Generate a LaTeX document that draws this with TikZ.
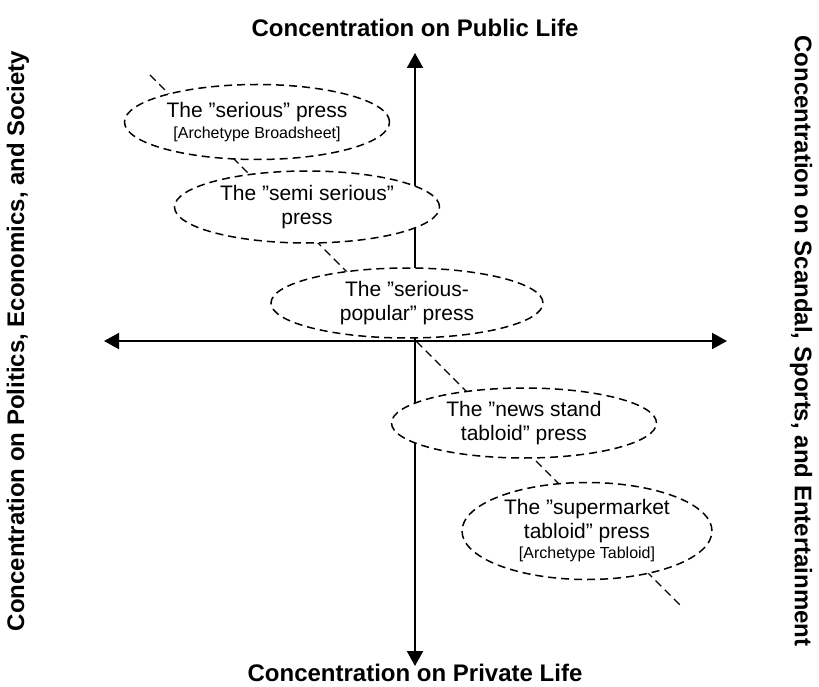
\documentclass[tikz,border=0pt]{standalone}
\usepackage{fontspec}
\setmainfont{Liberation Sans}
\usetikzlibrary{arrows.meta,shapes.geometric}
\begin{document}
\begin{tikzpicture}[x=1pt,y=-1pt,
  axis/.style={line width=2pt,{Triangle[length=15pt,width=16pt]}-{Triangle[length=15pt,width=16pt]}},
  bubble/.style={ellipse,draw,dashed,dash pattern=on 8pt off 5pt,line width=1.5pt,fill=white,inner sep=0pt,align=center,font=\fontsize{21}{23.5}\selectfont},
  title/.style={font=\bfseries\fontsize{24}{28}\selectfont,inner sep=0pt},
  diag/.style={dashed,dash pattern=on 8pt off 5pt,line width=1.3pt}]
\useasboundingbox (0,0) rectangle (819,687);
\coordinate (d1) at (150,75);
\coordinate (d2) at (680,605);
\draw[diag] (d1) -- (d2);
\coordinate (top) at (415,53);
\coordinate (bot) at (415,666);
\coordinate (lft) at (104,341);
\coordinate (rgt) at (727,341);
\draw[axis] (top) -- (bot);
\draw[axis] (lft) -- (rgt);
\node[bubble,minimum width=265pt,minimum height=75pt] (e1) at (257,122) {The ”serious” press\\[-3pt]{\fontsize{16}{18}\selectfont [Archetype Broadsheet]}};
\node[bubble,minimum width=265pt,minimum height=72pt] (e2) at (307,207) {The ”semi serious”\\press};
\node[bubble,minimum width=272pt,minimum height=70pt] (e3) at (407,303) {The ”serious-\\popular” press};
\node[bubble,minimum width=265pt,minimum height=70pt] (e4) at (524,423) {The ”news stand\\tabloid” press};
\node[bubble,minimum width=250pt,minimum height=97pt] (e5) at (587,531) {The ”supermarket\\tabloid” press\\[-3pt]{\fontsize{16}{18}\selectfont [Archetype Tabloid]}};
\node[title] (t1) at (415,28) {Concentration on Public Life};
\node[title,anchor=base] (t2) at (415,681) {Concentration on Private Life};
\node[title,rotate=90] (t3) at (18,341) {Concentration on Politics, Economics, and Society};
\node[title,rotate=-90] (t4) at (801,341) {Concentration on Scandal, Sports, and Entertainment};
\end{tikzpicture}
\end{document}
